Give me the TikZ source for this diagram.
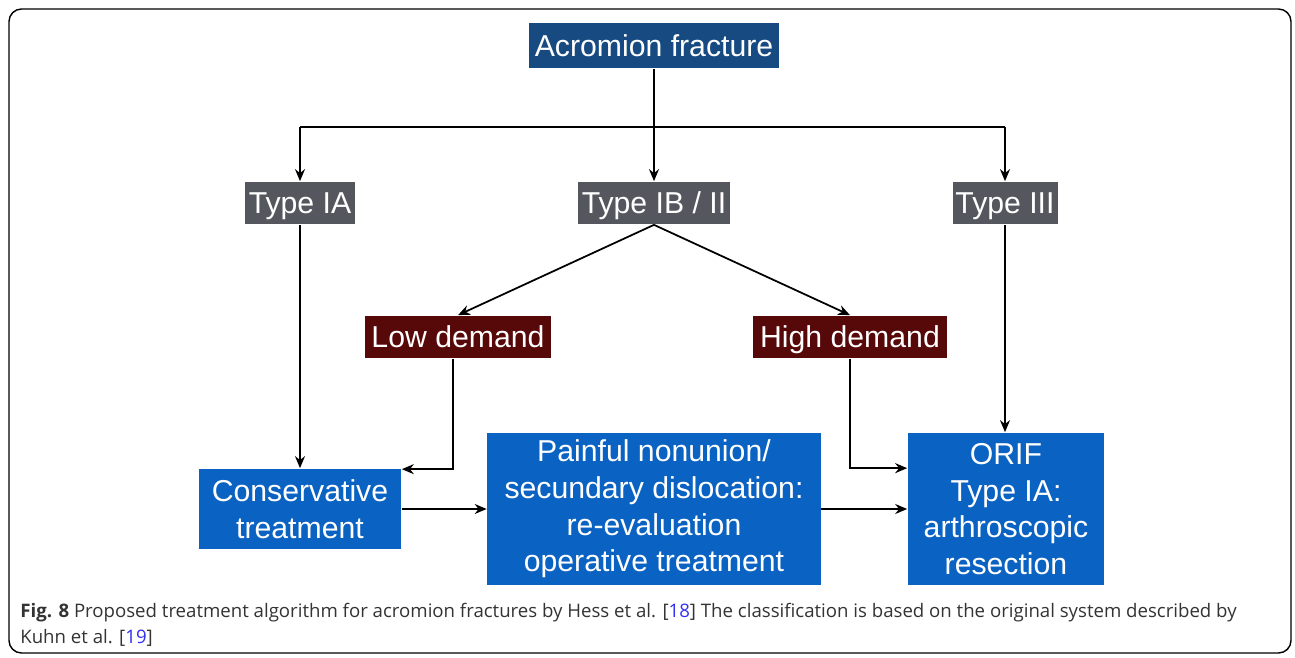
\documentclass[tikz,border=0pt]{standalone}
\usepackage{fontspec}
\setmainfont{Liberation Sans}
\newfontfamily\capfont{Open Sans}
\usepackage{tikz}
\usetikzlibrary{positioning,arrows.meta}
\definecolor{topblue}{HTML}{174A80}
\definecolor{typegray}{HTML}{54585E}
\definecolor{demandred}{HTML}{570808}
\definecolor{treatblue}{HTML}{0A62C2}
\definecolor{citeblue}{HTML}{3030F0}
\definecolor{capgray}{HTML}{333333}

\begin{document}
\begin{tikzpicture}[x=0.02cm,y=-0.02cm,
every node/.style={text=white,align=center,inner sep=0pt,font=\fontsize{17.2}{20.9}\selectfont},
onebox/.style={text height=15.5pt,text depth=3.2pt},
topbox/.style={onebox,fill=topblue,minimum width=5cm,minimum height=0.9cm},
typebox/.style={onebox,fill=typegray,minimum height=0.86cm},
demandbox/.style={onebox,fill=demandred,minimum height=0.86cm},
treatbox/.style={fill=treatblue},
capline/.style={anchor=base west,align=left,text=capgray,font=\capfont\fontsize{10.6}{14.7}\selectfont},
link/.style={black,line width=1pt,-{Stealth[length=2.4mm,width=2mm]}},
line/.style={black,line width=1pt}]
\useasboundingbox (0,0) rectangle (1295,658);
\draw[line width=0.8pt,rounded corners=0.25cm] (9,9) rectangle (1291,653);

\node[topbox] (acro) at (654,46) {Acromion fracture};
\node[typebox,minimum width=2.2cm] (ia) at (300,203) {Type IA};
\node[typebox,minimum width=3.04cm] (ib) at (654,203) {Type IB / II};
\node[typebox,minimum width=2.1cm] (iii) at (1005,203) {Type III};
\node[demandbox,minimum width=3.72cm] (low) at (458,337) {Low demand};
\node[demandbox,minimum width=3.88cm] (high) at (850,337) {High demand};
\node[treatbox,minimum width=4.06cm,minimum height=1.62cm] (cons) at (300,509) {Conservative\\treatment};
\node[treatbox,minimum width=6.68cm,minimum height=3.06cm] (pain) at (654,509) {Painful nonunion/\\secundary dislocation:\\re-evaluation\\operative treatment};
\node[treatbox,minimum width=3.94cm,minimum height=3.06cm] (orif) at (1006,509) {ORIF\\Type IA:\\arthroscopic\\resection};

\coordinate (split) at (654,127);
\draw[link] (acro) -- (ib);
\draw[line] (ia.north |- split) -- (iii.north |- split);
\draw[link] (ia.north |- split) -- (ia);
\draw[link] (iii.north |- split) -- (iii);
\draw[link] (ib.south) -- (low.north);
\draw[link] (ib.south) -- (high.north);
\draw[link] (ia) -- (cons);
\draw[link] (iii) -- (orif.north -| iii);
\draw[link] ([xshift=-0.1cm]low.south) |- ([yshift=-0.02cm]cons.north east);
\draw[link] (high.south) |- ([yshift=-0.72cm]orif.north west);
\draw[link] (cons) -- (pain);
\draw[link] (pain) -- (orif);

\node[capline] (cap1) at (20,617) {\textbf{Fig. 8} Proposed treatment algorithm for acromion fractures by Hess et al. [\textcolor{citeblue}{18}] The classification is based on the original system described by};
\node[capline] (cap2) at (20,643) {Kuhn et al. [\textcolor{citeblue}{19}]};
\end{tikzpicture}
\end{document}
